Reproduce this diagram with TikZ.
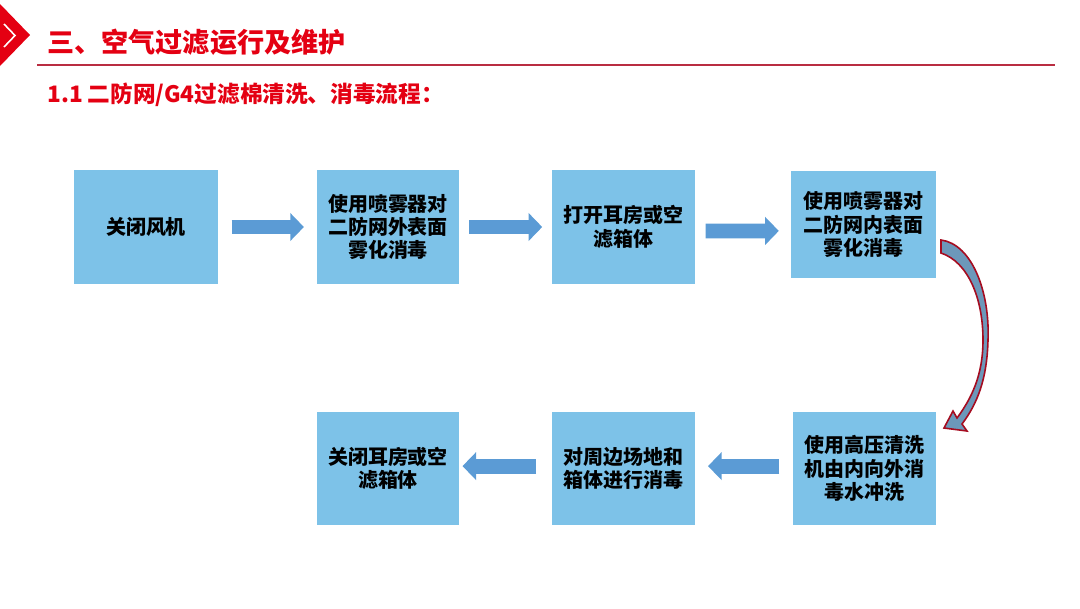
\documentclass[tikz,border=0pt]{standalone}
\usepackage{fontspec}
\setmainfont{Noto Sans CJK SC}
\usetikzlibrary{arrows.meta, positioning}

\definecolor{boxblue}{RGB}{125,194,232}
\definecolor{arrowblue}{RGB}{91,155,213}
\definecolor{titlered}{RGB}{228,0,18}
\definecolor{linered}{RGB}{185,45,65}
\definecolor{curvefill}{RGB}{108,152,186}
\definecolor{curvered}{RGB}{165,12,32}

\tikzset{
  stepbox/.style={fill=boxblue, minimum width=3.55cm, minimum height=2.83cm,
    align=center, inner sep=0pt, font=\fontsize{14.2}{16.6}\selectfont\bfseries},
  flowarrow/.style={draw=arrowblue, line width=0.37cm,
    -{Triangle[width=0.68cm,length=0.34cm]}},
  titletext/.style={anchor=west, inner sep=0pt, text=titlered},
}

\begin{document}
\begin{tikzpicture}[x=0.025cm, y=-0.025cm]
	\useasboundingbox (0,0) rectangle (1080,608);
	%logo and heading
		\fill[titlered] (0,4) -- (30,35) -- (0,66) -- cycle;
		\draw[white, line width=0.04cm] (4,24) -- (15,35.5) -- (4,47);
		\node[titletext, font=\fontsize{19.3}{22}\selectfont\bfseries] (title) at (47,42) {三、空气过滤运行及维护};
		\draw[linered, line width=0.03cm] (37,65) -- (1055,65);
		\node[titletext, font=\fontsize{16.1}{18}\selectfont\bfseries] (subtitle) at (47,95) {1.1 二防网/G4过滤棉清洗、消毒流程：};
	%top row
		\node[stepbox, minimum width=3.6cm] (fan) at (146,227) {关闭风机};
		\node[stepbox] (sprayout) at (388,227) {使用喷雾器对\\二防网外表面\\雾化消毒};
		\node[stepbox] (open) at (623.5,227) {打开耳房或空\\滤箱体};
		\node[stepbox, minimum width=3.62cm, minimum height=2.68cm] (sprayin) at (863.5,224.5) {使用喷雾器对\\二防网内表面\\雾化消毒};
	%bottom row
		\node[stepbox, minimum width=3.58cm] (wash) at (864.5,468.5) {使用高压清洗\\机由内向外消\\毒水冲洗};
		\node[stepbox] (site) at (623.5,468.5) {对周边场地和\\箱体进行消毒};
		\node[stepbox] (close) at (388,468.5) {关闭耳房或空\\滤箱体};
	%arrows
		\draw[flowarrow] ([xshift=0.33cm]fan.east) -- ([xshift=-0.32cm]sprayout.west);
		\draw[flowarrow] ([xshift=0.25cm]sprayout.east) -- ([xshift=-0.25cm]open.west);
		\draw[flowarrow] ([xshift=0.27cm, yshift=-0.1cm]open.east) -- ([xshift=-0.3cm, yshift=-0.16cm]sprayin.west);
		\draw[flowarrow] ([xshift=-0.33cm, yshift=0.06cm]wash.west) -- ([xshift=0.33cm, yshift=0.06cm]site.east);
		\draw[flowarrow] ([xshift=-0.4cm, yshift=0.06cm]site.west) -- ([xshift=0.08cm, yshift=0.06cm]close.east);
	%curved arrow down
		\filldraw[fill=curvefill, draw=curvered, line width=0.04cm, line join=miter]
			(941,240) .. controls (972,244) and (990,292) .. (988,340)
			.. controls (987,380) and (977,404) .. (962,424)
			-- (967,431) -- (944,428) -- (953,411) -- (957,418)
			.. controls (971,399) and (983,376) .. (983,340)
			.. controls (983,298) and (968,262) .. (941,253) -- cycle;
\end{tikzpicture}
\end{document}
